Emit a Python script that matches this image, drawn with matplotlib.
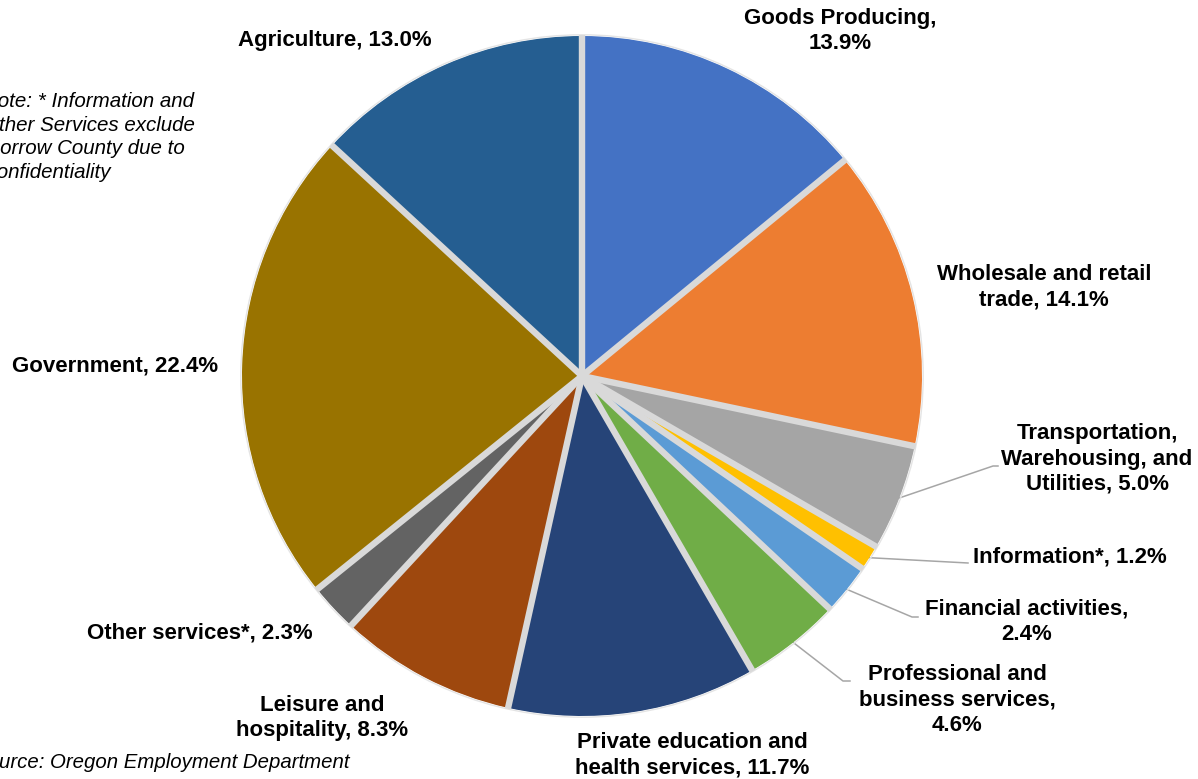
import numpy as np
import matplotlib.pyplot as plt

plt.rcParams['font.family'] = ['Liberation Sans', 'DejaVu Sans']

# industry share of employment, clockwise from 12 o'clock
labels = ['Goods Producing,\n13.9%', 'Wholesale and retail\ntrade, 14.1%',
          'Transportation,\nWarehousing, and\nUtilities, 5.0%', 'Information*, 1.2%',
          'Financial activities,\n2.4%', 'Professional and\nbusiness services,\n4.6%',
          'Private education and\nhealth services, 11.7%', 'Leisure and\nhospitality, 8.3%',
          'Other services*, 2.3%', 'Government, 22.4%', 'Agriculture, 13.0%']
shares = [13.9, 14.1, 5.0, 1.2, 2.4, 4.6, 11.7, 8.3, 2.3, 22.4, 13.0]
colors = ['#4472C4', '#ED7D31', '#A5A5A5', '#FFC000', '#5B9BD5', '#70AD47',
          '#264478', '#9E480E', '#636363', '#997300', '#255E91']

W, H = 1198, 779
cx, cy, R = 582, H - 376, 340

fig = plt.figure(figsize=(W / 100, H / 100), dpi=100)
ax = fig.add_axes([0, 0, 1, 1])
wedges, _ = ax.pie(shares, colors=colors, startangle=90, counterclock=False,
                   center=(cx, cy), radius=R,
                   wedgeprops=dict(edgecolor='none', linewidth=0))
ax.set_xlim(0, W)
ax.set_ylim(0, H)
ax.set_aspect('equal')
ax.axis('off')

# light gray separators between slices (no outer ring)
for w in wedges:
    a = np.deg2rad(w.theta1)
    ax.plot([cx, cx + (R + 1) * np.cos(a)], [cy, cy + (R + 1) * np.sin(a)],
            color='#D9D9D9', lw=4.6, solid_capstyle='butt', zorder=3)
ax.add_patch(plt.Circle((cx, cy), R + 1.2, fill=False, ec='#E4E4E4', lw=1.0,
                        zorder=2))

# label centres (pixel coords from top-left) and optional leader elbows
label_pos = [(840, 31), (1044, 287), (1097, 459), (1070, 557), (1027, 622),
             (957, 700), (692, 755), (322, 718), (200, 633), (115, 366), (335, 40)]
elbows = {2: [(993, 466), (998, 466)], 3: [(968, 563)],
          4: [(912, 617), (918, 617)], 5: [(843, 681), (850, 681)]}

for i, (lab, (px, py)) in enumerate(zip(labels, label_pos)):
    ax.text(px, H - py, lab, ha='center', va='center', fontsize=16,
            fontweight='bold', color='#000000', linespacing=1.27)
    if i in elbows:
        w = wedges[i]
        ang = np.deg2rad((w.theta1 + w.theta2) / 2)
        x0, y0 = cx + R * np.cos(ang), cy + R * np.sin(ang)
        xs = [x0] + [e[0] for e in elbows[i]]
        ys = [y0] + [H - e[1] for e in elbows[i]]
        ax.plot(xs, ys, color='#A6A6A6', lw=1.1, zorder=0.5)

note = 'Note: * Information and\nOther Services exclude\nMorrow County due to\nConfidentiality'
ax.text(-17, H - 92, note, ha='left', va='top', fontsize=14.8, style='italic',
        linespacing=1.3)
ax.text(-26, H - 763, 'Source: Oregon Employment Department', ha='left',
        va='center', fontsize=14.7, style='italic')

fig.savefig('out.png', dpi=100, facecolor='white')
